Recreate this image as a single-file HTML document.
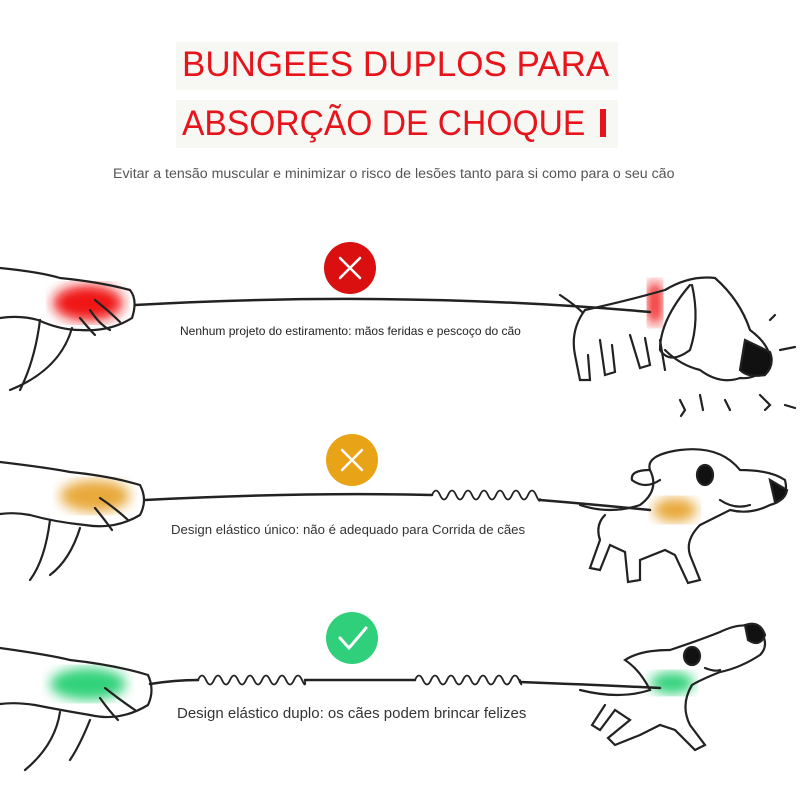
<!DOCTYPE html>
<html><head><meta charset="utf-8"><style>
html,body{margin:0;padding:0;background:#fff;}
body{width:800px;height:800px;position:relative;overflow:hidden;font-family:"Liberation Sans",sans-serif;}
.t{position:absolute;color:#e8141b;font-size:35px;white-space:nowrap;}
.s{position:absolute;color:#555;white-space:nowrap;}
</style></head><body>
<div style="position:absolute;left:176px;top:42px;width:442px;height:48px;background:#f7f8f4"></div>
<div style="position:absolute;left:176px;top:100px;width:442px;height:48px;background:#f7f8f4"></div>
<div class="t" style="left:182px;top:45px;">BUNGEES DUPLOS PARA</div>
<div class="t" style="left:182px;top:104px;transform:scaleX(0.96);transform-origin:left">ABSORÇÃO DE CHOQUE</div>
<div style="position:absolute;left:600px;top:109px;width:6px;height:28px;background:#e8141b"></div>
<div class="s" style="left:113px;top:166px;font-size:14.2px;">Evitar a tensão muscular e minimizar o risco de lesões tanto para si como para o seu cão</div>
<div class="s" style="left:180px;top:324px;font-size:12px;color:#222">Nenhum projeto do estiramento: mãos feridas e pescoço do cão</div>
<div class="s" style="left:171px;top:522px;font-size:13.2px;color:#333">Design elástico único: não é adequado para Corrida de cães</div>
<div class="s" style="left:177px;top:705px;font-size:15px;color:#333">Design elástico duplo: os cães podem brincar felizes</div>
<svg width="800" height="800" style="position:absolute;left:0;top:0" fill="none" stroke="#222" stroke-width="2.2" stroke-linecap="round">
<defs>
<filter id="b"><feGaussianBlur stdDeviation="6"/></filter>
</defs>
<circle cx="350" cy="268" r="26" fill="#d9100f" stroke="none"/>
<path d="M340 258 L360 278 M360 258 L340 278" stroke="#fff" stroke-width="2.5"/>
<circle cx="352" cy="460" r="26" fill="#e9a317" stroke="none"/>
<path d="M342 450 L362 470 M362 450 L342 470" stroke="#fff" stroke-width="2.5"/>
<circle cx="352" cy="638" r="26" fill="#2fcf7b" stroke="none"/>
<path d="M340 638 L349 648 L366 628" stroke="#fff" stroke-width="3"/>
<ellipse cx="88" cy="303" rx="35" ry="18" fill="#f01818" stroke="none" filter="url(#b)"/>
<ellipse cx="95" cy="496" rx="35" ry="16" fill="#e8a93a" stroke="none" filter="url(#b)"/>
<ellipse cx="88" cy="684" rx="38" ry="16" fill="#30d27a" stroke="none" filter="url(#b)"/>
<rect x="648" y="282" width="14" height="42" rx="7" fill="#f01818" stroke="none" filter="url(#b)"/>
<ellipse cx="675" cy="510" rx="22" ry="12" fill="#e8a93a" stroke="none" filter="url(#b)"/>
<ellipse cx="672" cy="683" rx="22" ry="11" fill="#30d27a" stroke="none" filter="url(#b)"/>
<g>
<path d="M0 268 Q40 272 60 278 Q100 282 130 290 Q138 300 132 318 Q110 332 80 330 Q60 330 38 320 Q20 315 0 318"/>
<path d="M40 320 Q35 360 20 390 M72 328 Q60 370 10 390"/>
<path d="M95 300 Q110 312 120 322 M90 310 Q100 325 110 330 M80 318 Q90 330 95 335"/>
<path d="M0 462 Q50 468 70 472 Q110 476 140 485 Q148 500 140 515 Q115 530 85 525 Q55 522 30 515 Q15 512 0 514"/>
<path d="M50 520 Q45 560 30 580 M80 528 Q70 560 50 575"/>
<path d="M100 498 Q115 508 128 520 M95 508 Q105 520 112 530"/>
<path d="M0 648 Q50 655 70 660 Q115 665 148 675 Q155 690 148 705 Q120 722 90 715 Q60 710 35 705 Q15 702 0 704"/>
<path d="M60 712 Q55 745 25 770 M90 720 Q80 745 70 760"/>
<path d="M105 688 Q120 700 135 710 M100 698 Q110 712 118 720"/>
</g>
<path d="M135 305 Q400 290 650 312" stroke-width="2.5"/>
<path d="M145 500 Q300 492 432 495 M540 500 Q600 505 650 510" stroke-width="2.5"/>
<path d="M432 495 q4 -9 8 0 q4 9 8 0 q4 -9 8 0 q4 9 8 0 q4 -9 8 0 q4 9 8 0 q4 -9 8 0 q4 9 8 0 q4 -9 8 0 q4 9 8 0 q4 -9 8 0 q4 9 8 0 q4 -9 8 0 q4 9 4 4" stroke-width="1.8"/>
<path d="M150 684 Q175 680 198 680 M305 680 L415 680 M520 682 Q600 685 660 688" stroke-width="2.5"/>
<path d="M198 680 q4 -9 8 0 q4 9 8 0 q4 -9 8 0 q4 9 8 0 q4 -9 8 0 q4 9 8 0 q4 -9 8 0 q4 9 8 0 q4 -9 8 0 q4 9 8 0 q4 -9 8 0 q4 9 8 0 q4 -9 8 0 q4 9 3 0" stroke-width="1.8"/>
<path d="M415 680 q4 -9 8 0 q4 9 8 0 q4 -9 8 0 q4 9 8 0 q4 -9 8 0 q4 9 8 0 q4 -9 8 0 q4 9 8 0 q4 -9 8 0 q4 9 8 0 q4 -9 8 0 q4 9 8 0 q4 -9 8 0 q4 9 1 0" stroke-width="1.8"/>
<g>
<path d="M560 295 Q575 305 582 312 M585 310 Q630 300 665 290 Q690 275 715 278 Q740 300 750 330 Q770 345 770 360 Q760 380 740 378 Q720 385 700 370 Q680 365 665 350"/>
<path d="M690 285 Q660 320 660 350 Q670 365 690 350 Q700 320 692 285"/>
<path d="M585 310 Q570 330 575 355 L580 380 L590 380 L588 355 M600 340 L605 375 L615 372 L612 345 M630 335 L640 368 L650 365 L645 338 M660 340 L665 370"/>
<path d="M745 340 L770 352 Q775 365 765 375 Q748 378 740 370 Z" fill="#111"/>
<path d="M680 400 l5 10 -4 6 M700 395 l3 15 M725 400 l5 10 M760 395 l10 10 -5 5 M785 405 l10 3 M780 350 l15 -3 M770 320 l5 -5"/>
</g>
<g>
<path d="M580 505 Q610 515 640 505 Q660 490 650 470 Q645 455 680 450 Q720 445 740 470 Q770 470 785 480 Q790 500 770 505 Q750 515 730 510 Q710 520 700 525 Q685 540 690 555 L700 580 L688 583 L675 555 L665 550 L640 560 L640 580 L628 582 L625 552 L610 545 L600 570 L590 568 L600 540 Q595 525 605 515"/>
<path d="M650 470 Q630 470 632 480 Q645 490 660 480"/>
<ellipse cx="705" cy="475" rx="8" ry="10" fill="#111"/>
<path d="M770 480 L787 490 Q785 500 775 502 Z" fill="#111"/>
<path d="M720 500 Q735 510 750 505"/>
</g>
<g>
<path d="M580 690 Q620 700 650 690 Q640 670 625 660 Q640 650 670 650 Q700 640 720 632 Q745 620 760 630 Q770 645 760 655 Q740 668 720 672 Q700 680 692 685 Q680 705 690 725 L705 745 L695 750 L675 730 L660 725 L640 735 L615 745 L608 738 L630 720 L615 710 L600 730 L592 725 L605 705"/>
<ellipse cx="692" cy="656" rx="8" ry="9" fill="#111"/>
<path d="M745 625 Q760 620 765 635 Q760 648 748 640 Z" fill="#111"/>
<path d="M705 668 Q715 672 720 670"/>
</g>
</svg>
</body></html>
